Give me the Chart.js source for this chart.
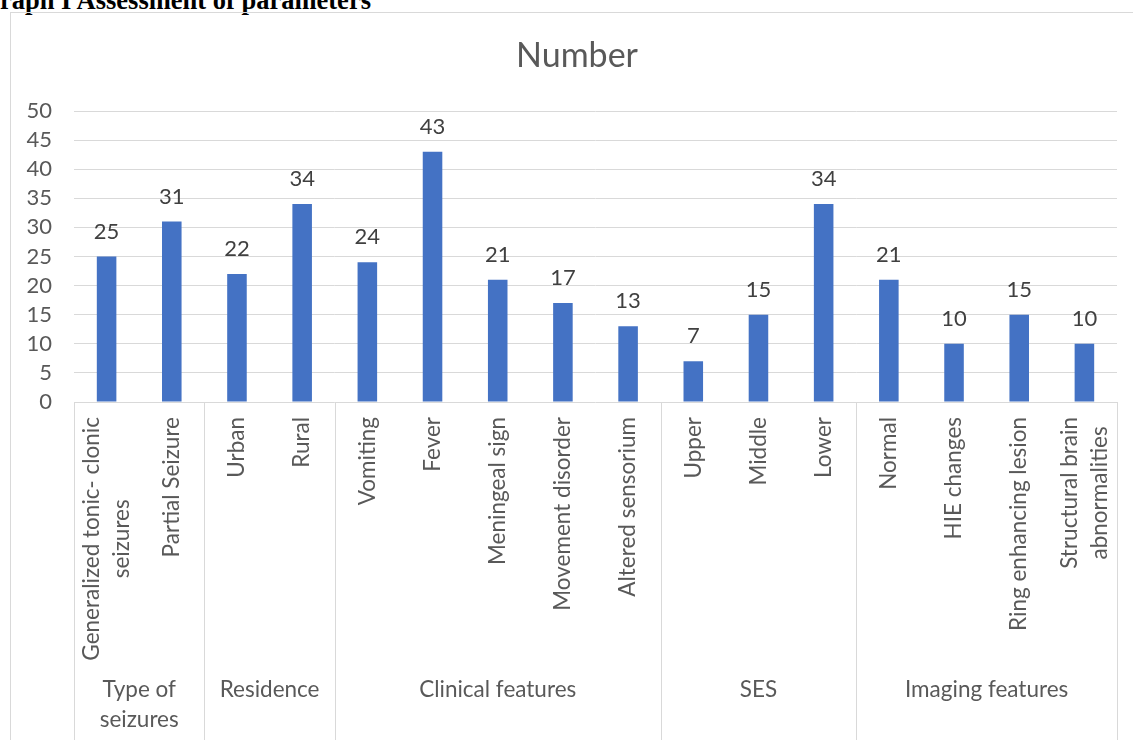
<!DOCTYPE html>
<html>
<head>
<meta charset="utf-8">
<script src="https://cdn.jsdelivr.net/npm/chart.js@4/dist/chart.umd.min.js"></script>
<style>
  html, body { margin: 0; padding: 0; background: #fff; overflow: hidden; }
  #heading {
    position: absolute; left: 0; top: -13px;
    font: bold 26.5px "Liberation Serif", "Times New Roman", serif;
    line-height: 26px; color: #000; white-space: nowrap;
  }
  #frame {
    position: absolute; left: 10px; top: 12px; width: 1200px; height: 800px;
    border: 1px solid #d9d9d9;
  }
  #chart { position: absolute; left: 0; top: 0; }
</style>
</head>
<body>
<div id="heading">raph I Assessment of parameters</div>
<div id="frame"></div>
<canvas id="chart" width="1133" height="740"></canvas>
<script>
// DATA
const chartTitle = "Number";
const categories = [
  ["Generalized tonic- clonic", "seizures"], "Partial Seizure",
  "Urban", "Rural",
  "Vomiting", "Fever", "Meningeal sign", "Movement disorder", "Altered sensorium",
  "Upper", "Middle", "Lower",
  "Normal", "HIE changes", "Ring enhancing lesion", ["Structural brain", "abnormalities"]
];
const numbers = [25, 31, 22, 34, 24, 43, 21, 17, 13, 7, 15, 34, 21, 10, 15, 10];
const groupNames = [["Type of", "seizures"], ["Residence"], ["Clinical features"], ["SES"], ["Imaging features"]];
const groupSizes = [2, 2, 5, 3, 4];
const yTicks = [0, 5, 10, 15, 20, 25, 30, 35, 40, 45, 50];

const FONT = "Lato";
const GRID = "#d9d9d9";

// title (Excel centres it on the whole chart frame, which runs past the window)
const frameTitle = {
  id: "frameTitle",
  afterDraw(chart) {
    const ctx = chart.ctx;
    ctx.save();
    ctx.font = "34px " + FONT;
    ctx.fillStyle = "#595959";
    ctx.textAlign = "center";
    ctx.textBaseline = "alphabetic";
    ctx.fillText(chartTitle, 577, 67);
    ctx.restore();
  }
};

// value labels above bars
const valueLabels = {
  id: "valueLabels",
  afterDatasetsDraw(chart) {
    const ctx = chart.ctx;
    const meta = chart.getDatasetMeta(0);
    ctx.save();
    ctx.font = "22px " + FONT;
    ctx.fillStyle = "#404040";
    ctx.textAlign = "center";
    ctx.textBaseline = "alphabetic";
    meta.data.forEach((bar, i) => {
      ctx.fillText(String(numbers[i]), bar.x, bar.y - 18);
    });
    ctx.restore();
  }
};

// rotated category labels + group labels + separators
const groupAxis = {
  id: "groupAxis",
  afterDraw(chart) {
    const ctx = chart.ctx;
    const x = chart.scales.x;
    const area = chart.chartArea;
    const bottom = chart.height;
    ctx.save();

    // category labels, rotated, multi-line centered
    ctx.font = "22.5px " + FONT;
    ctx.fillStyle = "#595959";
    ctx.textAlign = "center";
    ctx.textBaseline = "middle";
    const lineH = 30;
    categories.forEach((lab, i) => {
      const lines = Array.isArray(lab) ? lab : [lab];
      const maxW = Math.max(...lines.map(l => ctx.measureText(l).width));
      const cx = x.getPixelForValue(i);
      const top = area.bottom + 15;
      lines.forEach((line, j) => {
        const off = (j - (lines.length - 1) / 2) * lineH;
        ctx.save();
        ctx.translate(cx + off, top + maxW / 2);
        ctx.rotate(-Math.PI / 2);
        ctx.fillText(line, 0, 0);
        ctx.restore();
      });
    });

    // separators and group names
    ctx.strokeStyle = GRID;
    ctx.lineWidth = 1;
    let start = 0;
    const edge = (k) => {
      if (k <= 0) return area.left;
      if (k >= categories.length) return area.right;
      return (x.getPixelForValue(k - 1) + x.getPixelForValue(k)) / 2;
    };
    const drawSep = (px) => {
      ctx.beginPath();
      ctx.moveTo(Math.round(px) + 0.5, area.bottom);
      ctx.lineTo(Math.round(px) + 0.5, bottom);
      ctx.stroke();
    };
    drawSep(edge(0));
    groupSizes.forEach((n, g) => {
      const l = edge(start), r = edge(start + n);
      drawSep(r);
      const mid = (l + r) / 2;
      groupNames[g].forEach((line, j) => {
        ctx.fillText(line, mid, 690 + j * 30);
      });
      start += n;
    });
    ctx.restore();
  }
};

new Chart(document.getElementById("chart").getContext("2d"), {
  type: "bar",
  data: {
    labels: categories,
    datasets: [{
      label: chartTitle,
      data: numbers,
      backgroundColor: "#4472C4",
      borderWidth: 0,
      barPercentage: 0.3,
      categoryPercentage: 1
    }]
  },
  options: {
    responsive: false,
    animation: false,
    devicePixelRatio: 1,
    layout: { padding: { left: 0, right: 16, top: 111, bottom: 0 } },
    plugins: {
      legend: { display: false },
      tooltip: { enabled: false },
      title: { display: false }
    },
    scales: {
      x: {
        ticks: { display: false },
        grid: { display: false },
        border: { display: false },
        afterFit: s => { s.height = 338; }
      },
      y: {
        min: 0,
        max: 50,
        afterBuildTicks: s => { s.ticks = yTicks.map(v => ({ value: v })); },
        ticks: { color: "#595959", font: { family: FONT, size: 22 }, padding: 22, autoSkip: false },
        grid: { color: GRID, drawTicks: false },
        border: { display: false },
        afterFit: s => { s.width = 74; }
      }
    }
  },
  plugins: [valueLabels, groupAxis, frameTitle]
});
</script>
</body>
</html>
